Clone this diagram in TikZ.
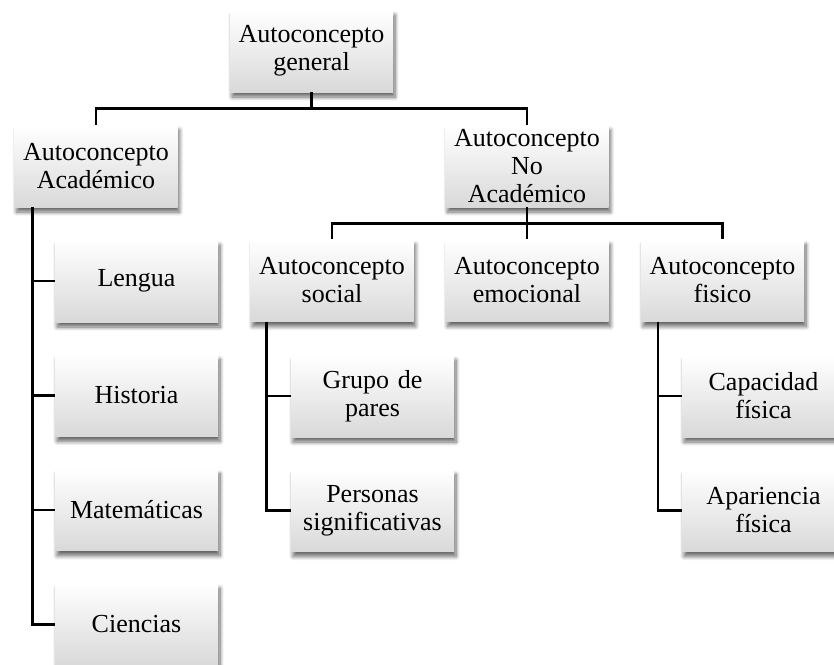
\documentclass[tikz,border=0pt]{standalone}
\usepackage{fontspec}
\setmainfont{Liberation Serif}
\usetikzlibrary{positioning,calc,shadows.blur}
\definecolor{BoxGray}{HTML}{D9D9D9}

\begin{document}
\begin{tikzpicture}[x=1pt,y=-1pt,
  every node/.style={font=\fontsize{26}{28}\selectfont},
  concepto/.style={top color=white,middle color=white!96!black,bottom color=BoxGray,
    minimum width=163pt,minimum height=82pt,text width=155pt,inner sep=0pt,align=center,
    blur shadow={shadow xshift=2pt,shadow yshift=-5pt,shadow blur steps=8,shadow blur radius=4pt,shadow opacity=60}},
  rama/.style={line width=2.6pt,black}]
  \useasboundingbox (0,0) rectangle (834,664);
  \clip (0,0) rectangle (834,664);
  % nivel 1 y 2
  \node[concepto] (gen) at (311.5,51) {Autoconcepto\\general};
  \node[concepto] (acad) at (96,166) {Autoconcepto\\Académico};
  \node[concepto] (noacad) at (527,166) {Autoconcepto\\No\\Académico};
  % nivel 3
  \node[concepto] (social) at (332,280.5) {Autoconcepto\\social};
  \node[concepto] (emoc) at (527,280.5) {Autoconcepto\\emocional};
  \node[concepto] (fis) at (722.5,280.5) {Autoconcepto\\fisico};
  % materias
  \node[concepto] (lengua) at (136.5,281) {Lengua};
  \node[concepto,below=32pt of lengua] (hist) {Historia};
  \node[concepto,below=32pt of hist] (mat) {Matemáticas};
  \node[concepto,below=32pt of mat] (cien) {Ciencias};
  % social y fisico
  \node[concepto] (pares) at (372.5,396) {Grupo de\\pares};
  \node[concepto,below=32pt of pares] (pers) {Personas\\significativas};
  \node[concepto] (capac) at (763.5,396) {Capacidad\\física};
  \node[concepto,below=32pt of capac] (apar) {Apariencia\\física};
  % conectores
  \foreach \y in {acad,noacad}{\draw[rama] (gen.south) -- ++(0,16) -| (\y.north);}
  \foreach \y in {social,emoc,fis}{\draw[rama] (noacad.south) -- ++(0,16) -| (\y.north);}
  \foreach \y in {lengua,hist,mat,cien}{\draw[rama] ([xshift=18pt]acad.south west) |- (\y.west);}
  \foreach \y in {pares,pers}{\draw[rama] ([xshift=16pt]social.south west) |- (\y.west);}
  \foreach \y in {capac,apar}{\draw[rama] ([xshift=17pt]fis.south west) |- (\y.west);}
\end{tikzpicture}
\end{document}
